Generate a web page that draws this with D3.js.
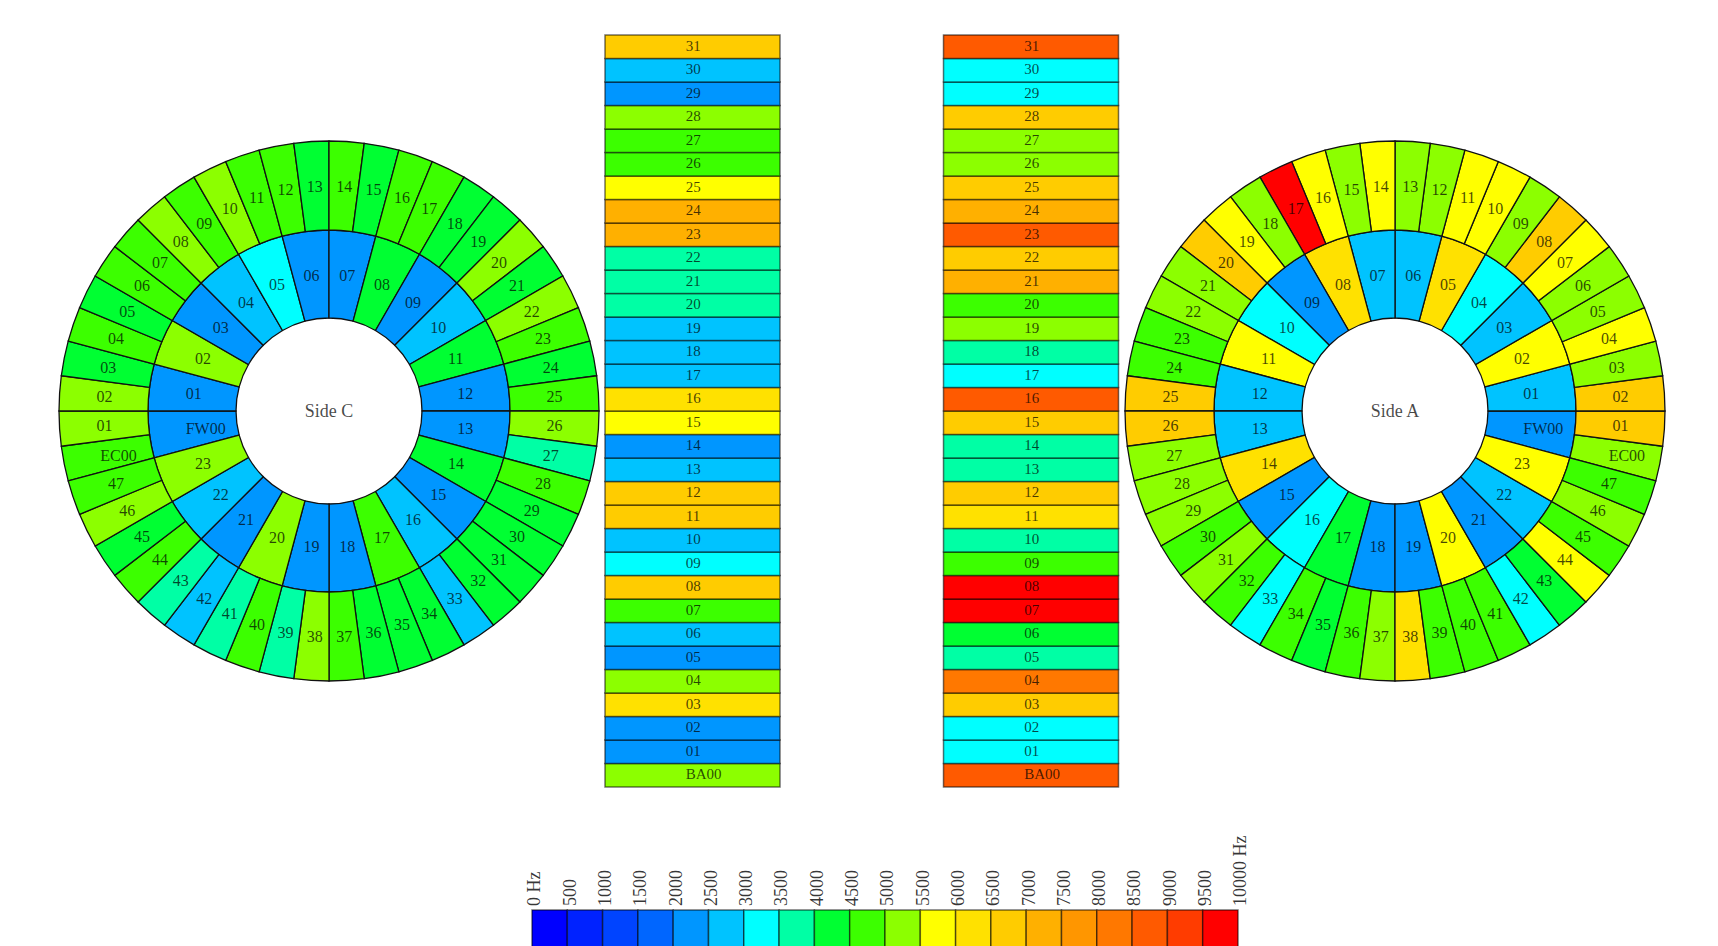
<!DOCTYPE html>
<html>
<head>
<meta charset="utf-8">
<script src="https://d3js.org/d3.v7.min.js"></script>
<style>
  body { margin: 0; background: #fff; }
  svg text { font-family: "Liberation Serif", "DejaVu Serif", serif; }
</style>
</head>
<body>
<svg id="chart" width="1718" height="946"></svg>
<script>
// sector names
const innerLabels = ['FW00', '01', '02', '03', '04', '05', '06', '07', '08', '09', '10', '11',
  '12', '13', '14', '15', '16', '17', '18', '19', '20', '21', '22', '23'];
const outerLabels = ['EC00', '01', '02', '03', '04', '05', '06', '07', '08', '09', '10', '11',
  '12', '13', '14', '15', '16', '17', '18', '19', '20', '21', '22', '23',
  '24', '25', '26', '27', '28', '29', '30', '31', '32', '33', '34', '35',
  '36', '37', '38', '39', '40', '41', '42', '43', '44', '45', '46', '47'];
const barrelLabels = ['BA00', '01', '02', '03', '04', '05', '06', '07', '08', '09', '10', '11',
  '12', '13', '14', '15', '16', '17', '18', '19', '20', '21', '22', '23',
  '24', '25', '26', '27', '28', '29', '30', '31'];

// frequencies in Hz, same order as the labels above
const sideCInner = [2310, 2180, 5240, 2270, 2720, 3180, 2350, 2290, 4210, 2240, 2830, 4160,
  2330, 2260, 4280, 2210, 2690, 4640, 2300, 2250, 5170, 2190, 2780, 5310];
const sideCOuter = [4720, 5180, 5260, 4310, 4690, 4240, 4770, 4630, 5140, 4710, 5220, 4660,
  4740, 4380, 4580, 4290, 4820, 4700, 4350, 4270, 5330, 4190, 5210, 4650,
  4320, 4560, 5150, 3720, 4680, 4230, 4340, 4280, 4210, 2840, 4370, 4250,
  4300, 4610, 5120, 3810, 4750, 3690, 2770, 3760, 4640, 4330, 5230, 4680];
const sideAInner = [2280, 2740, 5820, 2810, 3230, 6160, 2690, 2750, 6220, 2240, 3170, 5760,
  2830, 2710, 6140, 2200, 3260, 4310, 2270, 2330, 5880, 2190, 2790, 5740];
const sideAOuter = [5240, 6720, 6810, 5170, 5790, 5260, 5310, 5840, 6880, 5220, 5710, 5860,
  5140, 5280, 5690, 5230, 5770, 9710, 5190, 5820, 6760, 5300, 5150, 4830,
  4760, 6690, 6740, 5210, 5290, 5180, 4720, 5340, 4810, 3210, 4690, 4280,
  4740, 5260, 6230, 4780, 4650, 4820, 3180, 4350, 5730, 4710, 5240, 4770];
const barrelC = [5210, 2230, 2310, 6180, 5270, 2260, 2790, 4720, 6730, 3190, 2740, 6810,
  6660, 2820, 2280, 5830, 6240, 2710, 2860, 2770, 3780, 3690, 3820, 7240,
  7310, 5740, 4810, 4690, 5190, 2340, 2880, 6760];
const barrelA = [8760, 3210, 3180, 6840, 8240, 3760, 4330, 9820, 9740, 4690, 3810, 6270,
  6710, 3740, 3690, 6790, 8690, 3260, 3770, 5230, 4780, 7190, 6820, 8810,
  7280, 6750, 5180, 5260, 6690, 3170, 3230, 8730];

// legend
const legendTicks = [0, 500, 1000, 1500, 2000, 2500, 3000, 3500, 4000, 4500, 5000,
  5500, 6000, 6500, 7000, 7500, 8000, 8500, 9000, 9500, 10000];
const legendLabels = ['0 Hz', '500', '1000', '1500', '2000', '2500', '3000', '3500', '4000', '4500', '5000',
  '5500', '6000', '6500', '7000', '7500', '8000', '8500', '9000', '9500', '10000 Hz'];
const palette = ['#0000ff', '#0022ff', '#0044ff', '#0066ff', '#0096ff', '#00c3ff', '#00ffff',
  '#00ffa5', '#00ff32', '#3cff00', '#8cff00', '#ffff00', '#ffe100', '#ffcc00',
  '#ffb000', '#ff9600', '#ff7800', '#ff5a00', '#ff3c00', '#ff0000'];

const colorScale = d3.scaleQuantize().domain([0, 10000]).range(palette);
const svg = d3.select('#chart');
const deg = Math.PI / 180;

function drawWheel(cx, cy, name, innerVals, outerVals, mirror) {
  const g = svg.append('g').attr('transform', `translate(${cx},${cy})`);
  const rings = [
    { labels: innerLabels, values: innerVals, r0: 93, r1: 181 },
    { labels: outerLabels, values: outerVals, r0: 181, r1: 270 }
  ];

  rings.forEach(ring => {
    // sector 00 starts just below the horizontal; side A is the mirror image
    const angle = d3.scaleBand()
      .domain(ring.labels)
      .range(mirror ? [105 * deg, -255 * deg] : [255 * deg, 615 * deg]);
    const arc = d3.arc()
      .innerRadius(ring.r0)
      .outerRadius(ring.r1)
      .startAngle(d => angle(d.label))
      .endAngle(d => angle(d.label) + angle.bandwidth());
    const cells = ring.labels.map((label, i) => ({ label, value: ring.values[i] }));

    g.selectAll(null)
      .data(cells)
      .join('path')
      .attr('d', arc)
      .attr('fill', d => colorScale(d.value))
      .attr('stroke', '#111')
      .attr('stroke-width', 1.3);

    g.selectAll(null)
      .data(cells)
      .join('text')
      .attr('x', d => arc.centroid(d)[0])
      .attr('y', d => arc.centroid(d)[1])
      .attr('dx', '-0.47em')
      .attr('dy', '0.35em')
      .attr('font-size', 16)
      .attr('fill', '#000')
      .attr('fill-opacity', 0.72)
      .text(d => d.label);
  });

  g.append('text')
    .attr('text-anchor', 'middle')
    .attr('dy', '0.35em')
    .attr('font-size', 18)
    .attr('fill', '#000')
    .attr('fill-opacity', 0.72)
    .text(name);
}

function drawBarrel(x0, values) {
  const width = 175;
  const yScale = d3.scaleBand().domain(barrelLabels).range([787, 35]);
  const cells = barrelLabels.map((label, i) => ({ label, value: values[i] }));
  const g = svg.append('g');

  g.selectAll(null)
    .data(cells)
    .join('rect')
    .attr('x', x0)
    .attr('y', d => yScale(d.label))
    .attr('width', width)
    .attr('height', yScale.bandwidth())
    .attr('fill', d => colorScale(d.value))
    .attr('stroke', '#000')
    .attr('stroke-opacity', 0.55)
    .attr('stroke-width', 1.5);

  g.selectAll(null)
    .data(cells)
    .join('text')
    .attr('x', x0 + width / 2)
    .attr('y', d => yScale(d.label) + yScale.bandwidth() / 2)
    .attr('dx', '-0.45em')
    .attr('dy', '0.28em')
    .attr('font-size', 15)
    .attr('fill', '#000')
    .attr('fill-opacity', 0.72)
    .text(d => d.label);
}

function drawLegend() {
  const xScale = d3.scaleLinear().domain([0, 10000]).range([532, 1238]);
  const g = svg.append('g');
  const bins = palette.map((c, i) => ({ from: legendTicks[i], to: legendTicks[i + 1], color: c }));

  g.selectAll(null)
    .data(bins)
    .join('rect')
    .attr('x', d => xScale(d.from))
    .attr('y', 910)
    .attr('width', d => xScale(d.to) - xScale(d.from))
    .attr('height', 40)
    .attr('fill', d => d.color)
    .attr('stroke', '#000')
    .attr('stroke-opacity', 0.55)
    .attr('stroke-width', 1.5);

  g.selectAll(null)
    .data(legendTicks)
    .join('text')
    .attr('transform', (d, i) => `translate(${xScale(d) + 2},906) rotate(-90)`)
    .attr('dy', '0.35em')
    .attr('font-size', 18)
    .attr('fill', '#000')
    .attr('fill-opacity', 0.8)
    .text((d, i) => legendLabels[i]);
}

drawWheel(329, 411, 'Side C', sideCInner, sideCOuter, false);
drawWheel(1395, 411, 'Side A', sideAInner, sideAOuter, true);
drawBarrel(605, barrelC);
drawBarrel(943.5, barrelA);
drawLegend();
</script>
</body>
</html>
